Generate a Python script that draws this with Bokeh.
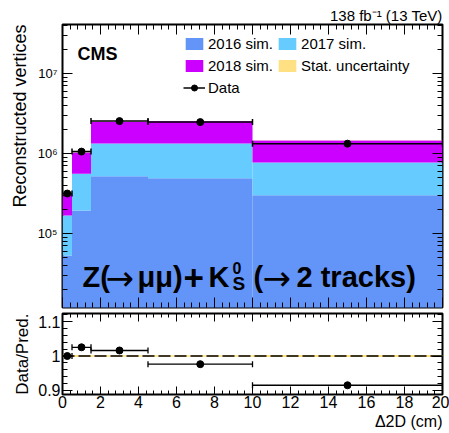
import numpy as np
from bokeh.plotting import figure
from bokeh.layouts import column
from bokeh.models import (Range1d, FixedTicker, LogAxis, LinearAxis, Label, Legend, LegendItem,
                          CustomJSTickFormatter, Span, Title)
from bokeh.embed import file_html
from bokeh.resources import INLINE

# ---------------- data ----------------
bin_edges = [0.0, 0.5, 1.5, 4.5, 10.0, 20.0]
sim_2016 = [5.3e4, 1.94e5, 5.2e5, 4.9e5, 3.0e5]
sim_2017 = [1.15e5, 3.66e5, 8.1e5, 8.4e5, 4.7e5]
sim_2018 = [1.48e5, 4.7e5, 1.17e6, 1.2e6, 6.8e5]
data_counts = [3.16e5, 1.056e6, 2.54e6, 2.47e6, 1.327e6]
stat_unc_rel = [0.004, 0.003, 0.002, 0.002, 0.003]
x_ticks = [0, 2, 4, 6, 8, 10, 12, 14, 16, 18, 20]
ratio_ticks = [0.9, 1.0, 1.1]
log_ticks = [1e5, 1e6, 1e7]

# ---------------- styling ----------------
FONT = "Liberation Sans"
ARROWFONT = "DejaVu Sans"
C16, C17, C18, CSTAT = "#6394F8", "#66CCFF", "#CC00FF", "#FFE082"
YLO, YHI = 10 ** 4.075, 10 ** 7.6125
RLO, RHI = 0.8884, 1.1232

left = np.array(bin_edges[:-1]); right = np.array(bin_edges[1:])
centers = 0.5 * (left + right)
s16 = np.array(sim_2016); s17 = np.array(sim_2017); s18 = np.array(sim_2018)
c1 = s16; c2 = s16 + s17; c3 = c2 + s18
total = c3
dat = np.array(data_counts)
unc = np.array(stat_unc_rel)
ratio = dat / total

blank = CustomJSTickFormatter(code="return '';")
x_minor = [round(0.4 * i, 2) for i in range(51)]
log_minor = [m * 10.0 ** e for e in range(4, 8) for m in range(2, 10)]
r_minor = [round(0.88 + 0.02 * i, 2) for i in range(13)]


def style_axis(ax, labels, major_in=10, minor_in=5, size="12px", standoff=4):
    ax.axis_line_color = None
    ax.axis_label_standoff = 0
    ax.major_tick_in = major_in
    ax.major_tick_out = 0
    ax.minor_tick_in = minor_in
    ax.minor_tick_out = 0
    ax.major_tick_line_color = "black"
    ax.minor_tick_line_color = "black"
    ax.major_tick_line_width = 1
    ax.minor_tick_line_width = 1
    if labels:
        ax.major_label_text_font = FONT
        ax.major_label_text_font_size = size
        ax.major_label_text_color = "black"
        ax.major_label_standoff = standoff
    else:
        ax.formatter = blank
        ax.major_label_standoff = 0
        ax.major_label_text_font_size = "1px"


def frame_style(p):
    p.xgrid.visible = False
    p.ygrid.visible = False
    p.outline_line_color = "black"
    p.outline_line_width = 2
    p.background_fill_color = "white"
    p.border_fill_color = "white"


def txt(p, x, y, text, size, font=FONT, bold=True, **kw):
    p.add_layout(Label(x=x, y=y, text=text, text_font=font, text_font_size=size,
                       text_font_style="bold" if bold else "normal", text_color="black",
                       text_baseline="alphabetic", **kw))


# ---------------- top panel ----------------
top = figure(width=449, height=310, x_range=Range1d(0, 20), y_range=Range1d(YLO, YHI),
             y_axis_type="log", output_backend="svg", toolbar_location=None,
             min_border_left=62, min_border_right=7, min_border_top=24, min_border_bottom=3)
frame_style(top)
top.title.text = "138 fb\u207b\u00b9 (13 TeV)"
top.title.align = "right"
top.title.text_font = FONT
top.title.text_font_size = "15px"
top.title.text_font_style = "normal"
top.title.text_color = "black"
top.title.standoff = 2

r16 = top.quad(left=left, right=right, bottom=YLO * 0.5, top=c1, fill_color=C16, line_color=None)
r17 = top.quad(left=left, right=right, bottom=c1, top=c2, fill_color=C17, line_color=None)
r18 = top.quad(left=left, right=right, bottom=c2, top=c3, fill_color=C18, line_color=None)
rst = top.quad(left=left, right=right, bottom=total * (1 - unc), top=total * (1 + unc),
               fill_color=CSTAT, line_color=None)
rseg = top.segment(x0=left, y0=dat, x1=right, y1=dat, line_color="black", line_width=1.5)
top.scatter(x=np.concatenate([left, right]), y=np.concatenate([dat, dat]), marker="dash",
            angle=np.pi / 2, size=6, line_color="black", line_width=1.5)
rdot = top.scatter(x=centers, y=dat, size=7, color="black")

top.xaxis.ticker = FixedTicker(ticks=x_ticks, minor_ticks=x_minor)
style_axis(top.xaxis[0], labels=False)
top.yaxis.ticker = FixedTicker(ticks=log_ticks, minor_ticks=log_minor)
top.yaxis.formatter = CustomJSTickFormatter(code="""
const e = Math.round(Math.log10(tick));
const sup = {4: '\u2074', 5: '\u2075', 6: '\u2076', 7: '\u2077'};
return '10' + sup[e];""")
style_axis(top.yaxis[0], labels=True, size="13px", standoff=5)
ax_above = LinearAxis(ticker=FixedTicker(ticks=x_ticks, minor_ticks=x_minor))
style_axis(ax_above, labels=False)
top.add_layout(ax_above, "above")
ax_right = LogAxis(ticker=FixedTicker(ticks=log_ticks, minor_ticks=log_minor))
style_axis(ax_right, labels=False)
top.add_layout(ax_right, "right")
top.add_layout(Title(text="Reconstructed vertices", align="right", text_font=FONT,
                     text_font_size="18px", text_font_style="normal", text_color="black",
                     standoff=10), "left")

legend = Legend(items=[
    LegendItem(label="2016 sim.", renderers=[r16]),
    LegendItem(label="2018 sim.", renderers=[r18]),
    LegendItem(label="Data", renderers=[rseg, rdot]),
    LegendItem(label="2017 sim.", renderers=[r17]),
    LegendItem(label="Stat. uncertainty", renderers=[rst]),
], ncols=2, location=(121, 210), label_text_font=FONT, label_text_font_size="15px",
    label_text_color="black",
    background_fill_alpha=0, border_line_color=None, padding=0, margin=0, spacing=3,
    label_standoff=3, glyph_width=22, glyph_height=15, label_height=19)
top.add_layout(legend)


def ylog(px):
    return 10 ** (7.6125 - (px - 24) / 80.0)


def xd(px):
    return (px - 62) / 19.0


txt(top, xd(77), ylog(53), "CMS", "18px")
# big process text, placed piece by piece
B = ylog(276)
txt(top, xd(82), B, "Z(", "29px")
txt(top, xd(105), ylog(277), "\u2192", "34px", font=ARROWFONT, bold=False)
txt(top, xd(137), B, "\u03bc\u03bc)", "29px")
txt(top, xd(183), ylog(277), "+", "35px")
txt(top, xd(208), B, "K", "29px")
txt(top, xd(232), ylog(267), "0", "16px")
txt(top, xd(232), ylog(283), "S", "19px")
txt(top, xd(253), B, "(", "29px")
txt(top, xd(262), ylog(277), "\u2192", "34px", font=ARROWFONT, bold=False)
txt(top, xd(296), B, "2 tracks)", "29px")

# ---------------- ratio panel ----------------
bot = figure(width=449, height=123, x_range=top.x_range, y_range=Range1d(RLO, RHI),
             output_backend="svg", toolbar_location=None,
             min_border_left=62, min_border_right=7, min_border_top=3, min_border_bottom=39)
frame_style(bot)

bot.quad(left=left, right=right, bottom=1 - unc, top=1 + unc, fill_color=CSTAT, line_color=None)
bot.add_layout(Span(location=1.0, dimension="width", line_color="black", line_width=1.3,
                    line_dash="12 4"))
bot.segment(x0=left, y0=ratio, x1=right, y1=ratio, line_color="black", line_width=1.3)
bot.scatter(x=np.concatenate([left, right]), y=np.concatenate([ratio, ratio]), marker="dash",
            angle=np.pi / 2, size=6, line_color="black", line_width=1.3)
bot.scatter(x=centers, y=ratio, size=7, color="black")

bot.xaxis.ticker = FixedTicker(ticks=x_ticks, minor_ticks=x_minor)
style_axis(bot.xaxis[0], labels=True, major_in=8, minor_in=4, size="16px", standoff=1)
bot.yaxis.ticker = FixedTicker(ticks=ratio_ticks, minor_ticks=r_minor)
bot.yaxis.formatter = CustomJSTickFormatter(
    code="return Math.abs(tick - 1) < 1e-9 ? '1' : tick.toFixed(1);")
style_axis(bot.yaxis[0], labels=True, major_in=10, minor_in=5, size="16px", standoff=2)
b_above = LinearAxis(ticker=FixedTicker(ticks=x_ticks, minor_ticks=x_minor))
style_axis(b_above, labels=False, major_in=8, minor_in=4)
bot.add_layout(b_above, "above")
b_right = LinearAxis(ticker=FixedTicker(ticks=ratio_ticks, minor_ticks=r_minor))
style_axis(b_right, labels=False)
bot.add_layout(b_right, "right")
bot.add_layout(Title(text="Data/Pred.", align="right", text_font=FONT, text_font_size="17px",
                     text_font_style="normal", text_color="black", standoff=8), "left")
bot.add_layout(Title(text="\u03942D (cm)", align="right", text_font=FONT, text_font_size="16px",
                     text_font_style="normal", text_color="black", standoff=0), "below")

layout = column(top, bot, spacing=0)
open("out.html", "w").write(file_html(layout, INLINE))
